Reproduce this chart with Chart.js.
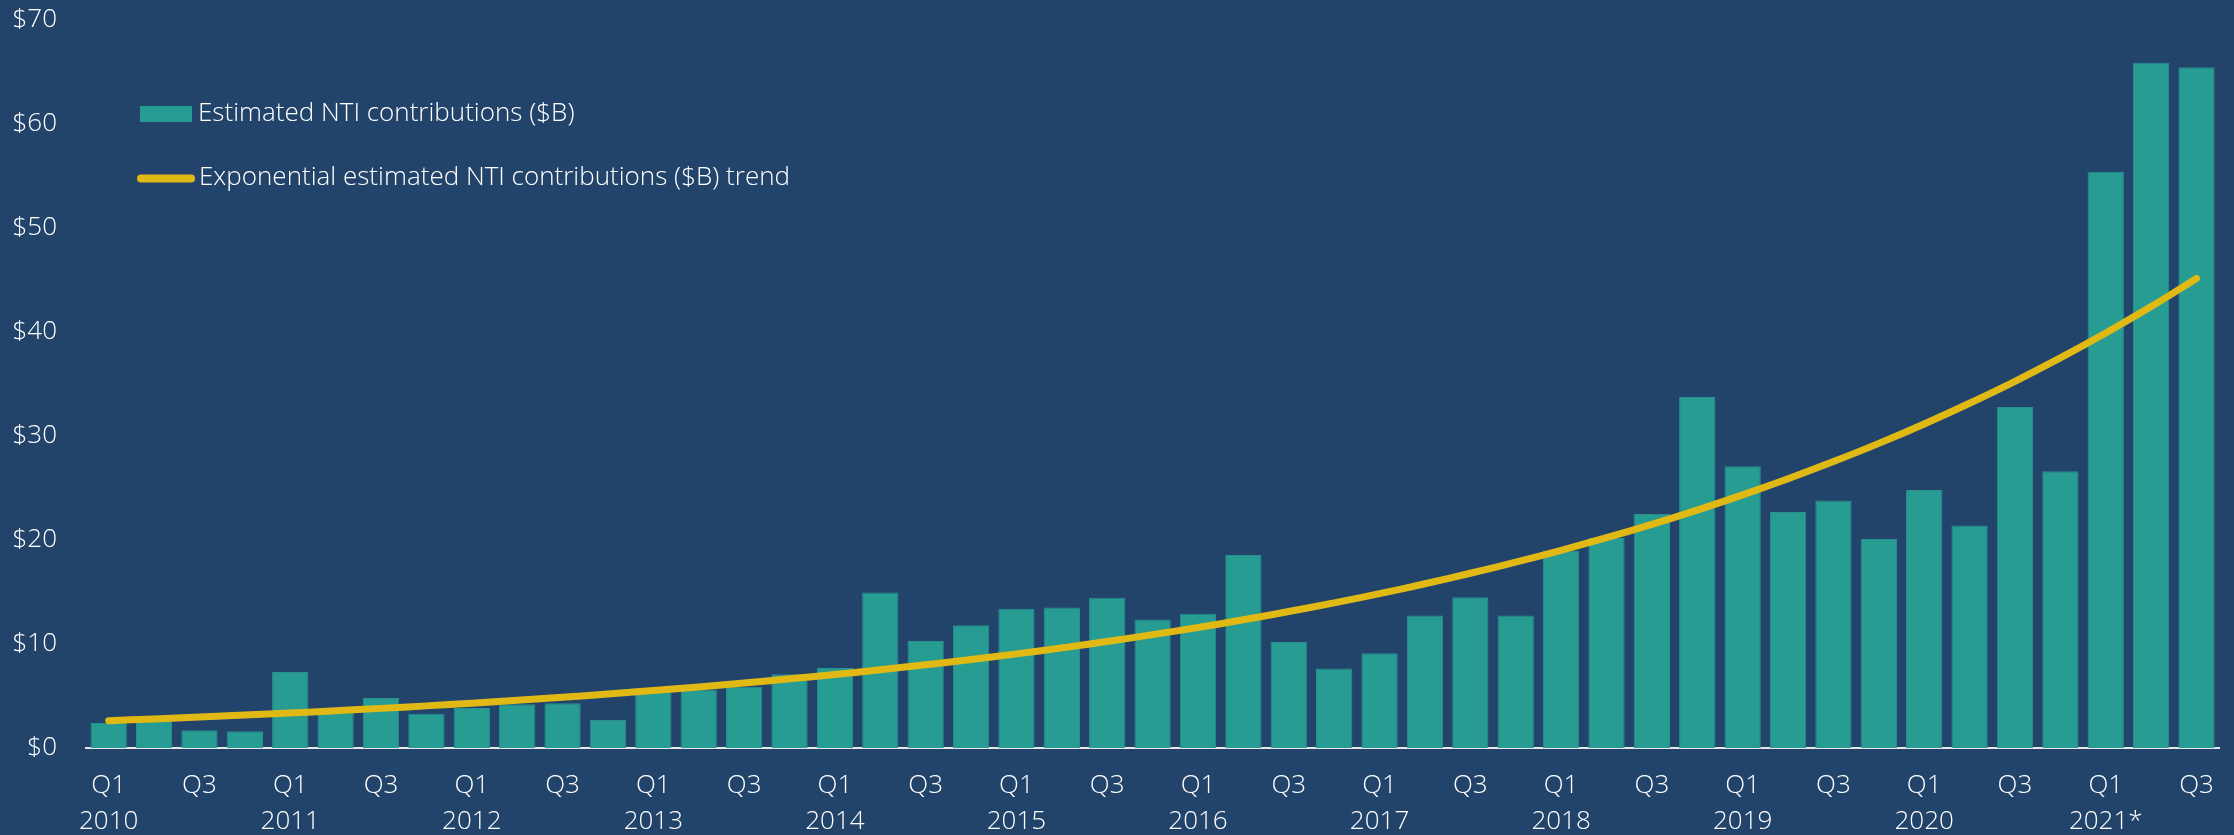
<!DOCTYPE html>
<html>
<head>
<meta charset="utf-8">
<script src="https://cdn.jsdelivr.net/npm/chart.js@4.4.1/dist/chart.umd.min.js"></script>
<style>
  html, body { margin: 0; padding: 0; background: #22446b; }
  #wrap { width: 2234px; height: 835px; }
</style>
</head>
<body>
<div id="wrap"><canvas id="ntiChart" width="2234" height="835"></canvas></div>
<script>
const years = ['2010', '2011', '2012', '2013', '2014', '2015', '2016', '2017', '2018', '2019', '2020', '2021*'];
const quarters = ['Q1', 'Q2', 'Q3', 'Q4'];

// Estimated NTI contributions ($B), 2010 Q1 .. 2021 Q3
const contributions = [
    2.4, 2.6, 1.7, 1.6,
    7.3, 3.4, 4.8, 3.3,
    3.85, 4.2, 4.3, 2.7,
    5.8, 5.6, 5.9, 7.1,
    7.7, 14.95, 10.3, 11.8,
    13.4, 13.5, 14.45, 12.35,
    12.9, 18.55, 10.2, 7.65,
    9.1, 12.75, 14.5, 12.75,
    19.0, 20.2, 22.5, 33.75,
    27.1, 22.7, 23.8, 20.1,
    24.8, 21.4, 32.8, 26.6,
    55.4, 65.9, 65.45
];

// Exponential trend line
const trend = [
    2.63, 2.80, 2.98, 3.17,
    3.37, 3.58, 3.81, 4.05,
    4.31, 4.59, 4.88, 5.19,
    5.52, 5.87, 6.25, 6.65,
    7.07, 7.52, 8.00, 8.51,
    9.05, 9.63, 10.24, 10.90,
    11.59, 12.33, 13.12, 13.95,
    14.84, 15.79, 16.80, 17.87,
    19.01, 20.22, 21.51, 22.88,
    24.34, 25.89, 27.54, 29.29,
    31.16, 33.15, 35.26, 37.51,
    39.90, 42.44, 45.15
];

const seriesNames = ['Estimated NTI contributions ($B)', 'Exponential estimated NTI contributions ($B) trend'];

const categories = [];
years.forEach(y => quarters.forEach(q => categories.push([q, y])));
categories.length = contributions.length;

const FONT = "'Open Sans', 'Noto Sans', sans-serif";
const textColor = '#ffffff';
const barColor = '#279c93';
const lineColor = '#e1b915';

Chart.defaults.font.family = FONT;
Chart.defaults.font.weight = 300;
Chart.defaults.color = textColor;

// legend drawn inside the plot, top left
const insideLegend = {
    id: 'insideLegend',
    afterDraw(chart) {
        const { ctx, chartArea } = chart;
        const x0 = chartArea.left + 54;
        const y0 = chartArea.top;
        ctx.save();
        ctx.font = `300 26px ${FONT}`;
        ctx.textBaseline = 'middle';
        ctx.textAlign = 'left';

        ctx.fillStyle = barColor;
        ctx.fillRect(x0, y0 + 86, 52, 16);
        ctx.fillStyle = textColor;
        ctx.fillText(seriesNames[0], x0 + 58, y0 + 94);

        ctx.strokeStyle = lineColor;
        ctx.lineWidth = 8;
        ctx.lineCap = 'round';
        ctx.beginPath();
        ctx.moveTo(x0 + 1, y0 + 158.5);
        ctx.lineTo(x0 + 51, y0 + 158.5);
        ctx.stroke();
        ctx.fillText(seriesNames[1], x0 + 59, y0 + 158);
        ctx.restore();
    }
};

new Chart(document.getElementById('ntiChart'), {
    type: 'bar',
    data: {
        labels: categories,
        datasets: [
            {
                type: 'line',
                label: seriesNames[1],
                data: trend,
                borderColor: lineColor,
                borderWidth: 7,
                borderCapStyle: 'round',
                pointRadius: 0,
                tension: 0.4,
                fill: false,
                order: 0
            },
            {
                label: seriesNames[0],
                data: contributions,
                backgroundColor: barColor,
                borderColor: '#2a8f8f',
                borderWidth: 1,
                categoryPercentage: 1.0,
                barPercentage: 0.8,
                order: 1
            }
        ]
    },
    options: {
        responsive: false,
        animation: false,
        devicePixelRatio: 1,
        layout: { padding: { top: 0, right: 11, bottom: 0, left: 0 } },
        scales: {
            x: {
                grid: { display: false, drawTicks: false },
                border: { display: true, color: '#e8e8e8', width: 2 },
                ticks: {
                    autoSkip: false,
                    maxRotation: 0,
                    padding: 20,
                    font: { size: 26, weight: 300, lineHeight: '36px' },
                    callback(value) {
                        const [q, y] = this.getLabelForValue(value);
                        if (q === 'Q1') return [q, y];
                        if (q === 'Q3') return q;
                        return '';
                    }
                },
                afterFit(axis) { axis.height = 87; }
            },
            y: {
                min: 0,
                max: 70,
                grid: { display: false, drawTicks: false },
                border: { display: false },
                ticks: {
                    stepSize: 10,
                    padding: 29,
                    font: { size: 26, weight: 300 },
                    callback: v => '$' + v
                },
                afterFit(axis) {
                    axis.width = 86;
                    axis.paddingTop = 20;
                    axis.paddingBottom = 0;
                }
            }
        },
        plugins: {
            legend: { display: false },
            tooltip: { enabled: false }
        }
    },
    plugins: [insideLegend]
});
</script>
</body>
</html>
